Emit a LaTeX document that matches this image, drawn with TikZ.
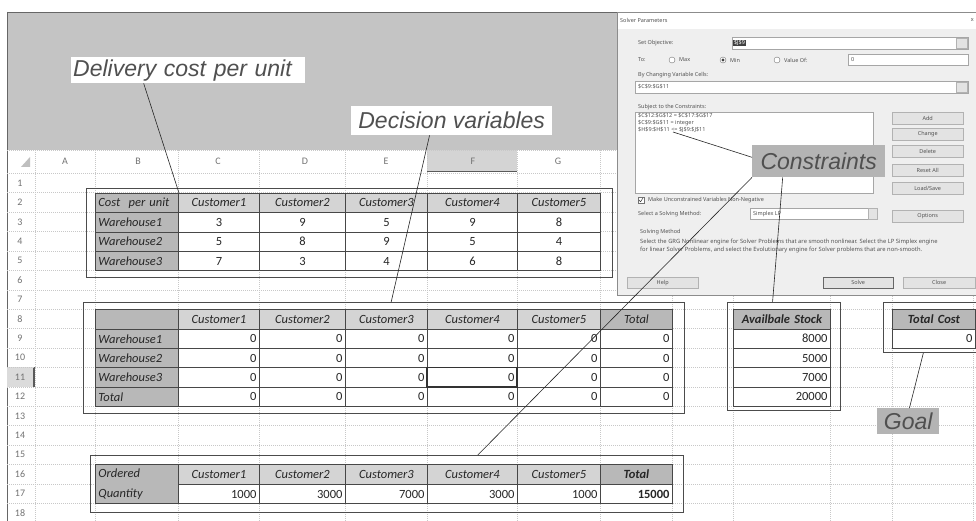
\documentclass[tikz,border=0pt]{standalone}
\usepackage{fontspec}
\setmainfont{Carlito}
\newfontfamily\calloutfont{Liberation Sans}
\newfontfamily\dlgfont{Noto Sans}
\usetikzlibrary{calc}
\definecolor{topgray}{HTML}{C4C4C4}
\definecolor{hdrgray}{HTML}{D4D4D4}
\definecolor{lblgray}{HTML}{B8B8B8}
\definecolor{calloutgray}{HTML}{B4B4B4}
\definecolor{dlggray}{HTML}{EFEFEF}
\definecolor{gridgray}{HTML}{C8C8C8}
\definecolor{textgray}{HTML}{505050}
\def\colx{{95,178,259,345,427,517,600,672,733,830,892,975}}
\newcommand{\tcell}[5]{%
	\pgfmathsetmacro\tcX{\colx[#2]}%
	\pgfmathsetmacro\tcW{\colx[#2+1]-\colx[#2]}%
	\pgfmathsetmacro\tcY{173.3+(#3-1)*19.41}%
	\pgfmathsetmacro\tcT{\tcW-6}%
	\node[#4, minimum width=\tcW pt, text width=\tcT pt] (#1) at (\tcX,\tcY) {#5};}
\tikzset{
	cell/.style={draw=black!72, line width=0.9pt, anchor=north west, inner xsep=3pt, inner ysep=0pt, minimum height=19.41pt, text=black!85, font=\fontsize{12.5}{15}\selectfont},
	hdr/.style={cell, fill=hdrgray, align=center, font=\fontsize{12.5}{15}\selectfont\itshape},
	bhdr/.style={cell, fill=lblgray, align=center, font=\fontsize{12.5}{15}\selectfont\bfseries\itshape},
	lbl/.style={cell, fill=lblgray, align=left, font=\fontsize{12.5}{15}\selectfont\itshape},
	val/.style={cell, fill=white, align=right},
	cval/.style={cell, fill=white, align=center},
	outerbox/.style={draw=black!70, line width=0.9pt, anchor=north west, inner sep=0pt},
	callout/.style={font=\calloutfont\itshape\fontsize{23}{26}\selectfont, text=textgray, anchor=north west, inner sep=0pt, align=center},
	grid/.style={draw=gridgray, line width=0.5pt, dash pattern=on 1pt off 1pt},
	colhd/.style={font=\fontsize{10}{12}\selectfont, text=black!55},
	dlgtxt/.style={font=\dlgfont\fontsize{5.5}{6.5}\selectfont, text=black!68, inner sep=0pt, anchor=west},
	dlgfield/.style={draw=black!35, fill=white, anchor=north west, inner sep=0pt},
	dlgbtn/.style={draw=black!30, fill=black!11, anchor=north west, inner sep=0pt, font=\dlgfont\fontsize{5.5}{6.5}\selectfont, text=black!68},
	radio/.style={circle, draw=black!55, fill=white, minimum size=6pt, inner sep=0pt},
	link/.style={draw=black!85, line width=0.6pt}
}
\begin{document}
\begin{tikzpicture}[x=1pt, y=-1pt, declare function={rt(\r)=173.3+(\r-1)*19.41;}]
\useasboundingbox (0,0) rectangle (976,521);
\fill[white] (0,0) rectangle (976,521);

% sheet frame
\fill[topgray] (7,12) rectangle (617,150);
\draw[black!60, line width=0.8pt] (7,12) -- (617,12);
\draw[black!60, line width=0.8pt] (7,12) -- (7,521);
\fill[hdrgray] (427,150) rectangle (517,172);
\draw[black!65, line width=1.5pt] (427,171.5) -- (517,171.5);
\fill[black!14] (7,{rt(11)}) rectangle (35,{rt(12)});
\draw[black!65, line width=1.5pt] (34,{rt(11)}) -- (34,{rt(12)});
\fill[black!25] (30,157) -- (30,167) -- (21,167) -- cycle;

% grid
\foreach \gx in {35,95,178,259,345,427,517,600,672,733,830,892,973}
	\draw[grid] (\gx,150) -- (\gx,521);
\foreach \r in {1,...,19}
	\draw[grid] (7,{rt(\r)}) -- (976,{rt(\r)});
\draw[grid] (7,150) -- (617,150);

\foreach \l/\lx in {A/65,B/138,C/218,D/305,E/386,F/473,G/558}
	\node[colhd] (col\l) at (\lx,161) {\l};
\foreach \r in {1,...,18}
	\node[colhd] (row\r) at (20,{rt(\r)+9.7}) {\r};

% cost per unit
\tcell{t1-2-0}{0}{2}{lbl}{Cost\ \ per unit}
\foreach \c in {1,...,5} {\tcell{t1-2-\c}{\c}{2}{hdr}{Customer\c}}
\foreach \r/\w/\vals in {3/1/{3,9,5,9,8},4/2/{5,8,9,5,4},5/3/{7,3,4,6,8}} {
	\tcell{t1-\r-0}{0}{\r}{lbl}{Warehouse\w}
	\foreach \v [count=\c] in \vals {\tcell{t1-\r-\c}{\c}{\r}{cval}{\v}}
}
\node[outerbox, minimum width=526pt, minimum height=89pt] (box1) at (86,188) {};

% decision variables
\tcell{t2-8-0}{0}{8}{lbl}{}
\foreach \c in {1,...,5} {\tcell{t2-8-\c}{\c}{8}{hdr}{Customer\c}}
\tcell{t2-8-6}{6}{8}{lbl, align=center}{Total}
\foreach \r/\lab in {9/Warehouse1,10/Warehouse2,11/Warehouse3,12/Total} {
	\tcell{t2-\r-0}{0}{\r}{lbl}{\lab}
	\foreach \c in {1,...,6} {\tcell{t2-\r-\c}{\c}{\r}{val}{0}}
}
\draw[black!80, line width=1.6pt] (427,{rt(11)}) rectangle (517,{rt(12)});
\node[outerbox, minimum width=601pt, minimum height=111pt] (box2) at (83,302) {};

% ordered quantity
\tcell{t3-16-0}{0}{16}{lbl, minimum height=38.82pt, font=\fontsize{12.5}{19.41}\selectfont\itshape}{Ordered\\Quantity}
\foreach \c/\q in {1/1000,2/3000,3/7000,4/3000,5/1000} {
	\tcell{t3-16-\c}{\c}{16}{hdr}{Customer\c}
	\tcell{t3-17-\c}{\c}{17}{val}{\q}
}
\tcell{t3-16-6}{6}{16}{bhdr}{Total}
\tcell{t3-17-6}{6}{17}{val, font=\fontsize{12.5}{15}\selectfont\bfseries}{15000}
\node[outerbox, minimum width=593pt, minimum height=57pt] (box3) at (90,455) {};

% stock and cost
\tcell{st-8}{8}{8}{bhdr}{Availbale Stock}
\foreach \r/\q in {9/8000,10/5000,11/7000,12/20000} {\tcell{st-\r}{8}{\r}{val}{\q}}
\node[outerbox, minimum width=113pt, minimum height=108pt] (box4) at (727,302) {};
\tcell{tc-8}{10}{8}{bhdr}{Total Cost}
\tcell{tc-9}{10}{9}{val}{0}
\node[outerbox, minimum width=100pt, minimum height=50pt] (box5) at (883,302) {};

% solver dialog
\fill[dlggray] (617,12) rectangle (976,295);
\fill[white] (617,12) rectangle (976,29);
\draw[black!45, line width=0.6pt] (617,12) rectangle (976,295);
\node[dlgtxt] (dtitle) at (620,20) {Solver Parameters};
\node[dlgtxt, anchor=east] (dclose) at (974,20) {x};
\node[dlgtxt] (dobj) at (638,43) {Set Objective:};
\node[dlgfield, minimum width=236pt, minimum height=12pt] (fobj) at (732,37) {};
\node[fill=black!75, text=white, font=\dlgfont\fontsize{5.5}{6.5}\selectfont, inner sep=0.8pt, anchor=west] (fsel) at (733,43) {\$J\$9};
\node[dlgbtn, minimum width=11pt, minimum height=10pt] (bobj) at (956,38) {};
\node[dlgtxt] (dto) at (638,60) {To:};
\node[radio] (rmax) at (672,60) {};
\node[dlgtxt] (lmax) at (679,60) {Max};
\node[radio] (rmin) at (723,60) {};
\fill[black!75] (rmin) circle (1.7pt);
\node[dlgtxt] (lmin) at (730,60) {Min};
\node[radio] (rval) at (777,60) {};
\node[dlgtxt] (lval) at (784,60) {Value Of:};
\node[dlgfield, minimum width=120pt, minimum height=11pt] (fval) at (848,54.5) {};
\node[dlgtxt] (tval) at (851,60) {0};
\node[dlgtxt] (dchg) at (638,75) {By Changing Variable Cells:};
\node[dlgfield, minimum width=333pt, minimum height=12pt] (fchg) at (635,81) {};
\node[dlgtxt] (tchg) at (638,87) {\$C\$9:\$G\$11};
\node[dlgbtn, minimum width=11pt, minimum height=10pt] (bchg) at (956,82) {};
\node[dlgtxt] (dsub) at (638,107) {Subject to the Constraints:};
\node[dlgfield, minimum width=238pt, minimum height=81pt] (flist) at (635,112) {};
\node[dlgtxt] (cons1) at (638,116) {\$C\$12:\$G\$12 = \$C\$17:\$G\$17};
\node[dlgtxt] (cons2) at (638,123) {\$C\$9:\$G\$11 = integer};
\node[dlgtxt] (cons3) at (638,130) {\$H\$9:\$H\$11 <= \$J\$9:\$J\$11};
\coordinate (ctxt) at (673,132);
\foreach \by/\bt [count=\i] in {112/Add,128/Change,145/Delete,164/Reset All,210/Options}
	\node[dlgbtn, minimum width=71pt, minimum height=12pt] (btn\i) at (892,\by) {\bt};
\node[dlgbtn, minimum width=71pt, minimum height=12pt] (bload) at (892,182) {Load/Save};
\node[draw=black!55, fill=white, minimum size=6pt, inner sep=0pt] (chk) at (641,200) {};
\draw[black!75, line width=0.5pt] ($(chk.center)+(-2,0)$) -- ($(chk.center)+(-0.5,1.8)$) -- ($(chk.center)+(2,-2)$);
\node[dlgtxt] (lchk) at (648,200) {Make Unconstrained Variables Non-Negative};
\node[dlgtxt] (dmeth) at (638,214) {Select a Solving Method:};
\node[dlgfield, minimum width=127pt, minimum height=11pt] (fmeth) at (750,208.5) {};
\node[dlgtxt] (tmeth) at (753,214) {Simplex LP};
\node[dlgbtn, minimum width=9pt, minimum height=11pt] (bmeth) at (868,208.5) {};
\node[dlgtxt] (dsm) at (640,232) {Solving Method};
\node[dlgtxt, align=left, font=\dlgfont\fontsize{5.8}{8}\selectfont] (ddesc) at (640,246) {Select the GRG Nonlinear engine for Solver Problems that are smooth nonlinear. Select the LP Simplex engine\\for linear Solver Problems, and select the Evolutionary engine for Solver problems that are non-smooth.};
\node[dlgbtn, minimum width=71pt, minimum height=11pt] (bhelp) at (627,277) {Help};
\node[dlgbtn, draw=black!60, minimum width=70pt, minimum height=11pt] (bsolve) at (823,277) {Solve};
\node[dlgbtn, minimum width=72pt, minimum height=11pt] (bclose) at (903,277) {Close};

% callouts
\node[callout, fill=white, minimum width=234pt, minimum height=26pt, text width=230pt, align=left] (dl) at (71,57) {Delivery cost per unit};
\node[callout, fill=white, minimum width=201pt, minimum height=29pt] (dv) at (351,106) {Decision variables};
\node[callout, fill=calloutgray, minimum width=133pt, minimum height=32pt] (cn) at (752,145) {Constraints};
\node[callout, fill=calloutgray, minimum width=62pt, minimum height=26pt] (goal) at (877,408) {Goal};

\draw[link] ($(dl.south west)!0.31!(dl.south east)$) -- (t1-2-0.north east);
\draw[link] ($(dv.south west)!0.39!(dv.south east)$) -- ($(box2.north west)!0.512!(box2.north east)$);
\draw[link] ($(cn.north west)!0.38!(cn.south west)$) -- (ctxt);
\draw[link] (cn.south west) -- ($(box3.north west)!0.653!(box3.north east)$);
\draw[link] ($(cn.south west)!0.23!(cn.south east)$) -- ($(box4.north west)!0.4!(box4.north east)$);
\draw[link] ($(goal.north west)!0.52!(goal.north east)$) -- ($(box5.south west)!0.4!(box5.south east)$);
\end{tikzpicture}
\end{document}
